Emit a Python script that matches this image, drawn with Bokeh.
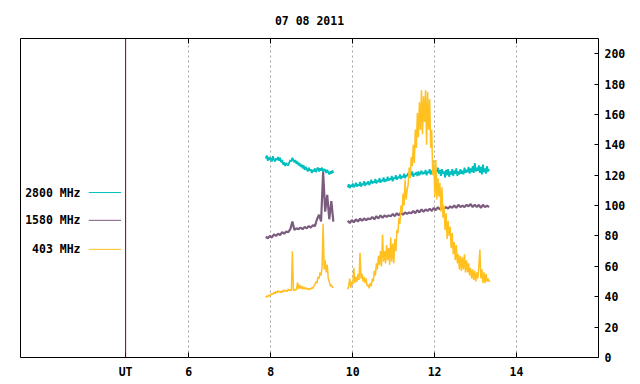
from bokeh.plotting import figure
from bokeh.models import (FixedTicker, LinearAxis, Span, Label, Range1d)
from bokeh.embed import file_html
from bokeh.resources import INLINE
import numpy as np

# ---------------- data ----------------
TITLE = "07 08 2011"
SEG1_START = 7.88          # UT hours, first observing block
SEG2_START = 9.88          # UT hours, second observing block
STEP_FINE = 0.025          # hours between samples (2800 / 403 MHz)
STEP = 0.05                # hours between samples (1580 MHz)
UT_MARK = 4.46             # position of the "UT" marker line
X_TICKS = [6, 8, 10, 12, 14]
Y_TICKS = [0, 20, 40, 60, 80, 100, 120, 140, 160, 180, 200]
SERIES_NAMES = ["2800 MHz", "1580 MHz", "403 MHz"]

f2800_seg1 = [131, 133, 129.5, 132, 130, 131.5, 129, 132.5, 130.5, 129,
              131, 130, 132, 129.5, 131.5, 128.5, 130, 127, 128.5, 126,
              128, 127, 126.5, 128.5, 130, 129, 131.5, 130, 128.5, 130,
              127.5, 129, 126.5, 128, 125.5, 127, 124.5, 126.5, 123.5, 125.5,
              124, 122.5, 125, 123, 124, 121.5, 123.5, 122.5, 124.5, 122,
              124, 125, 122.5, 124.5, 123, 125, 122, 124, 123.5, 121.5,
              123.5, 122, 120.5, 122.5, 121, 123, 121.5]
f2800_seg2 = [112, 114, 111.5, 113.5, 112.5, 114.5, 112, 113, 115, 112.5,
              114, 113, 115.5, 112.5, 114.5, 113.5, 116, 113, 115, 114,
              116, 113.5, 115, 117, 114.5, 116, 115, 117.5, 114.5, 116.5,
              115.5, 118, 115, 117, 116, 118.5, 115.5, 117.5, 116, 119,
              116.5, 118, 117, 119.5, 116, 118.5, 117.5, 120, 117, 119,
              118, 120.5, 117.5, 119.5, 118.5, 121, 118, 120, 119.5, 121.5,
              118.5, 121, 120, 122.5, 119, 121, 120.5, 122, 119.5, 122.5,
              120, 121.5, 123, 120.5, 122, 121, 123.5, 120, 122.5, 121.5,
              124, 120.5, 123, 121.5, 124.5, 120.5, 123, 122, 125, 121,
              123.5, 119.5, 124, 121, 122.5, 118.5, 123.5, 120, 124, 119,
              122.5, 120.5, 124, 119.5, 123, 121, 124.5, 119.5, 122.5, 120.5,
              124, 121, 123, 120.5, 125, 121.5, 123.5, 122, 125.5, 121,
              124.5, 122, 126, 121.5, 128, 122.5, 125, 123, 126.5, 121.5,
              125.5, 120.5, 127, 122, 124.5, 121, 126, 122.5, 124]

f1580_seg1 = [79.5, 78.5, 80, 79, 81, 80, 81.5, 80.5, 82.5, 81.5, 83, 82.5, 84.5, 89.5, 84, 85,
              84.5, 85.5, 84.5, 86, 85, 86.5, 85.5, 87, 86.5, 91, 94, 89.5, 122, 96, 107, 91,
              103, 89.5]
f1580_seg2 = [90, 88.5, 90.5, 89, 91, 89.5, 91.5, 90, 91.5, 90.5, 91.5, 91, 92.5, 91, 93, 91.5,
              93.5, 92, 93.5, 92.5, 93.5, 93, 94.5, 93, 95, 93.5, 95.5, 94, 95.5, 94.5, 95.5,
              95, 96.5, 95, 97, 95.5, 97.5, 96, 97.5, 96.5, 98, 96.5, 98.5, 97, 99, 97.5, 99.5,
              98, 99, 98, 99.5, 98.5, 100, 98.5, 100.5, 99, 100, 99, 100.5, 99.5, 101, 99, 100.5,
              99, 100.5, 98.5, 100.5, 99, 100, 99]

f403_seg1 = [39.5, 40.5, 40, 41, 40.5, 41.5, 42, 41.5, 43, 42, 43.5, 42.5, 44, 43, 43.5, 42.5,
             44, 43, 44.5, 43.5, 44, 43.5, 45, 44, 44.5, 44, 70, 44.5, 44, 45, 44.5, 49.5, 45,
             48, 45.5, 47, 45, 46.5, 45, 46, 45, 45.5, 44.5, 45.5, 45, 46, 45.5, 47, 48, 50, 49,
             53, 52, 56, 54, 60, 88, 58, 64, 56, 61, 52, 50, 47, 48, 46, 46.5]
f403_seg2 = [45, 47, 52, 46, 50, 48, 59, 49, 53, 50, 55, 51, 69, 52, 55, 50, 53, 49, 52, 47,
             48, 45.5, 49, 47, 52, 50, 57, 54, 62, 58, 67, 61, 70, 60, 81, 63, 70, 62, 74, 64,
             72, 61, 79, 63, 75, 62, 78, 70, 84, 82, 92, 88, 100, 95, 108, 100, 117, 104, 110,
             114, 125, 118, 132, 126, 140, 128, 150, 138, 161, 145, 168, 150, 176, 147, 172,
             155, 176, 140, 175, 150, 170, 138, 150, 120, 130, 106, 130, 104, 118, 106, 115, 96,
             112, 92, 100, 84, 95, 78, 90, 80, 86, 72, 82, 68, 76, 64, 74, 62, 68, 58, 67, 57,
             66, 58, 68, 56, 64, 56, 62, 54, 59, 52, 58, 51, 57, 50, 56, 52, 60, 71, 52, 58, 49,
             56, 49, 55, 50, 52, 50, 50.5]

COLORS = ["#00BFBF", "#7B5C7E", "#FFC020"]
WIDTHS = [1.8, 2.2, 1.5]
STEPS = [STEP_FINE, STEP, STEP_FINE]

FONT = "DejaVu Sans Mono"
FSIZE = "11.5px"

# ---------------- figure ----------------
p = figure(frame_width=578, frame_height=319, output_backend="svg", toolbar_location=None,
           x_range=Range1d(1.895, 16.0), y_range=Range1d(0, 210),
           x_axis_location="below", y_axis_location="right",
           min_border_left=20, min_border_right=42, min_border_top=38, min_border_bottom=27)
p.background_fill_color = "white"
p.border_fill_color = "white"
p.outline_line_color = "black"
p.outline_line_width = 1

p.title.text = TITLE
p.title.align = "center"
p.title.text_font = FONT
p.title.text_font_size = FSIZE
p.title.text_font_style = "bold"
p.title.text_color = "black"
p.title.standoff = 21

# bottom axis
xb = p.xaxis[0]
xb.ticker = FixedTicker(ticks=[UT_MARK] + X_TICKS)
xb.major_label_overrides = {UT_MARK: "UT"}
xb.major_tick_in = 5
xb.major_tick_out = 0
xb.minor_tick_line_color = None
xb.axis_line_color = None
xb.major_label_standoff = 7
xb.major_label_text_font = FONT
xb.major_label_text_font_size = FSIZE
xb.major_label_text_font_style = "bold"
xb.major_label_text_color = "black"
xb.major_tick_line_color = "black"

# top axis (ticks only)
xt = LinearAxis(ticker=FixedTicker(ticks=X_TICKS), major_tick_in=5, major_tick_out=0,
                minor_tick_line_color=None, axis_line_color=None,
                major_label_overrides={t: "" for t in X_TICKS}, major_label_standoff=0)
p.add_layout(xt, "above")

# right axis
yr = p.yaxis[0]
yr.ticker = FixedTicker(ticks=Y_TICKS)
yr.major_tick_in = 4
yr.major_tick_out = 0
yr.minor_tick_line_color = None
yr.axis_line_color = None
yr.major_label_standoff = 6
yr.major_label_text_font = FONT
yr.major_label_text_font_size = FSIZE
yr.major_label_text_font_style = "bold"
yr.major_label_text_color = "black"

p.xgrid.ticker = FixedTicker(ticks=X_TICKS)
p.xgrid.grid_line_color = "#A0A0A0"
p.xgrid.grid_line_dash = "2 3"
p.xgrid.grid_line_width = 1
p.ygrid.grid_line_color = None

p.add_layout(Span(location=UT_MARK, dimension="height", line_color="#800000", line_width=1))

series = [(f2800_seg1, f2800_seg2), (f1580_seg1, f1580_seg2), (f403_seg1, f403_seg2)]
for (s1, s2), col, w, st in zip(series, COLORS, WIDTHS, STEPS):
    t1 = np.round(SEG1_START + st * np.arange(len(s1)), 4)
    t2 = np.round(SEG2_START + st * np.arange(len(s2)), 4)
    p.line(t1, s1, line_color=col, line_width=w)
    p.line(t2, s2, line_color=col, line_width=w)

# legend (text left of a sample line)
LEG_TEXT_X = 3.36
LEG_LINE_X0, LEG_LINE_X1 = 3.56, 4.35
LEG_Y = [108.6, 90.3, 71.2]
for name, col, ly in zip(SERIES_NAMES, COLORS, LEG_Y):
    p.add_layout(Label(x=LEG_TEXT_X, y=ly, text=name, text_align="right", text_baseline="middle",
                       text_font=FONT, text_font_size=FSIZE, text_font_style="bold",
                       text_color="black"))
    p.segment(x0=[LEG_LINE_X0], y0=[ly], x1=[LEG_LINE_X1], y1=[ly], line_color=col, line_width=1)

open("out.html", "w").write(file_html(p, INLINE))
